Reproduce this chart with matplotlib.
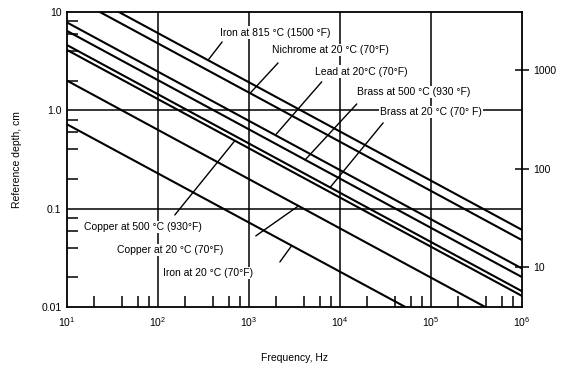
import numpy as np
import matplotlib
matplotlib.use("Agg")
import matplotlib.pyplot as plt
from matplotlib.ticker import FixedLocator, FixedFormatter, NullFormatter

plt.rcParams['font.family'] = ['Liberation Sans', 'DejaVu Sans']
plt.rcParams['mathtext.default'] = 'regular'

# Reference depth (cm) read at 10 Hz and at 10^6 Hz for each material
materials = ["Iron at 815 °C (1500 °F)", "Nichrome at 20 °C (70°F)", "Lead at 20°C (70°F)",
             "Brass at 500 °C (930 °F)", "Brass at 20 °C (70° F)", "Copper at 500 °C (930°F)",
             "Copper at 20 °C (70°F)", "Iron at 20 °C (70°F)"]
freq_ends = [1e1, 1e6]
depth_10hz = [19.2, 15.1, 7.8, 6.4, 4.6, 4.1, 2.0, 0.72]
depth_1mhz = [0.061, 0.048, 0.0247, 0.0202, 0.0145, 0.013, 0.0063, 0.0023]

# where each label's leader touches its line (Hz)
leader_freq = [355, 1030, 1950, 4150, 7800, 700, 3500, 2950]

y_ticks = [0.01, 0.1, 1.0, 10]
y_ticklabels = ["0.01", "0.1", "1.0", "10"]
mils_ticks = [10, 100, 1000]
mils_ticklabels = ["10", "100", "1000"]

# label placement (axes fraction): text anchor and leader start
text_pos = [(0.336, 0.929), (0.451, 0.871), (0.545, 0.797), (0.637, 0.729),
            (0.688, 0.661), (0.037, 0.271), (0.110, 0.193), (0.211, 0.115)]
leader_start = [(0.341, 0.898), (0.464, 0.827), (0.560, 0.763), (0.637, 0.688),
                (0.695, 0.624), (0.237, 0.312), (0.415, 0.241), (0.468, 0.153)]

fig = plt.figure(figsize=(5.63, 3.70), dpi=100)
ax = fig.add_axes([0.119, 0.170, 0.808, 0.798])

for d0, d1 in zip(depth_10hz, depth_1mhz):
    ax.plot(freq_ends, [d0, d1], color='black', lw=1.5, solid_capstyle='butt')

ax.set_xscale('log')
ax.set_yscale('log')
ax.set_xlim(1e1, 1e6)
ax.set_ylim(0.01, 10)

# grid only at the inner decades
for xv in [1e2, 1e3, 1e4, 1e5]:
    ax.axvline(xv, color='black', lw=1.1, zorder=1)
for yv in [0.1, 1.0]:
    ax.axhline(yv, color='black', lw=1.1, zorder=1)

ax.yaxis.set_major_locator(FixedLocator(y_ticks))
ax.yaxis.set_major_formatter(FixedFormatter(y_ticklabels))
ax.yaxis.set_minor_locator(FixedLocator([m * 10.0 ** e for e in range(-2, 1) for m in (2, 4, 6, 8)]))
ax.yaxis.set_minor_formatter(NullFormatter())
ax.xaxis.set_minor_locator(FixedLocator([m * 10.0 ** e for e in range(1, 6) for m in (2, 4, 6, 8)]))
ax.xaxis.set_minor_formatter(NullFormatter())
ax.tick_params(which='major', length=0, labelsize=7.5, pad=4)
ax.tick_params(which='minor', direction='in', length=8, width=1.1)
ax.tick_params(axis='x', which='major', pad=6)

for s in ax.spines.values():
    s.set_linewidth(1.3)

ax.set_xlabel("Frequency, Hz", fontsize=7.5, labelpad=17)
ax.set_ylabel("Reference depth, cm", fontsize=7.5, labelpad=14)

# right axis in mils
ax2 = ax.twinx()
ax2.set_yscale('log')
ax2.set_ylim(0.01 * 393.7, 10 * 393.7)
ax2.yaxis.set_major_locator(FixedLocator(mils_ticks))
ax2.yaxis.set_major_formatter(FixedFormatter(mils_ticklabels))
ax2.yaxis.set_minor_locator(FixedLocator([]))
ax2.tick_params(direction='inout', length=10, width=1.1, labelsize=7.5, pad=3)
for s in ax2.spines.values():
    s.set_visible(False)

log_f = np.log10(freq_ends)
for i, name in enumerate(materials):
    f = leader_freq[i]
    d = 10 ** np.interp(np.log10(f), log_f, np.log10([depth_10hz[i], depth_1mhz[i]]))
    ax.annotate('', xy=(f, d), xytext=leader_start[i], textcoords='axes fraction',
                arrowprops=dict(arrowstyle='-', color='black', lw=1.0, shrinkA=0, shrinkB=0))
    ax.text(text_pos[i][0], text_pos[i][1], name, transform=ax.transAxes, fontsize=7.5,
            ha='left', va='center', zorder=5,
            bbox=dict(facecolor='white', edgecolor='none', pad=1.0))

fig.savefig("out.png", dpi=100)
